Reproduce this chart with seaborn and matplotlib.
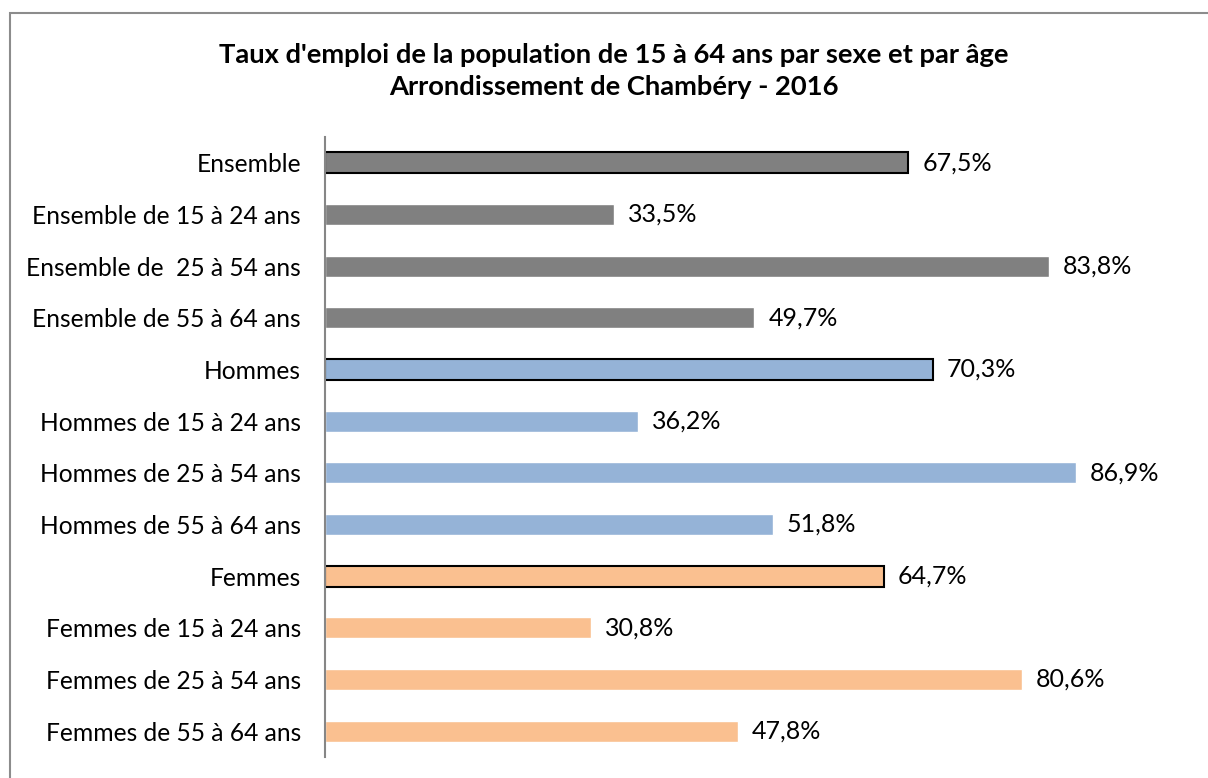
import matplotlib
matplotlib.use("Agg")
import matplotlib.pyplot as plt
import seaborn as sns
import pandas as pd
from matplotlib.patches import Rectangle

categories = [
    "Ensemble", "Ensemble de 15 à 24 ans", "Ensemble de  25 à 54 ans", "Ensemble de 55 à 64 ans",
    "Hommes", "Hommes de 15 à 24 ans", "Hommes de 25 à 54 ans", "Hommes de 55 à 64 ans",
    "Femmes", "Femmes de 15 à 24 ans", "Femmes de 25 à 54 ans", "Femmes de 55 à 64 ans",
]
values = [67.5, 33.5, 83.8, 49.7, 70.3, 36.2, 86.9, 51.8, 64.7, 30.8, 80.6, 47.8]
groups = ["Ensemble"] * 4 + ["Hommes"] * 4 + ["Femmes"] * 4
outlined = ["Ensemble", "Hommes", "Femmes"]
palette = {"Ensemble": "#808080", "Hommes": "#95B3D7", "Femmes": "#FAC090"}
title = "Taux d'emploi de la population de 15 à 64 ans par sexe et par âge\nArrondissement de Chambéry - 2016"

df = pd.DataFrame({"cat": categories, "val": values, "grp": groups})

sns.set_theme(style="white")
plt.rcParams["font.family"] = ["Lato", "DejaVu Sans"]

W, H = 1208, 778
fig = plt.figure(figsize=(W / 100, H / 100), dpi=100)
ax = fig.add_axes([324.5 / W, 1 - 757 / H, (1189.5 - 324.5) / W, (757 - 137) / H])

sns.barplot(data=df, y="cat", x="val", hue="grp", palette=palette, dodge=False,
            orient="h", width=0.41, legend=False, ax=ax, order=categories,
            saturation=1)

# outline the summary rows
for patch in ax.patches:
    y = patch.get_y() + patch.get_height() / 2
    idx = int(round(y))
    if 0 <= idx < len(categories) and categories[idx] in outlined and patch.get_width() > 0:
        patch.set_edgecolor("black")
        patch.set_linewidth(1.5)

ax.set_xlim(0, 100)
ax.set_ylim(len(categories) - 0.5, -0.5)
ax.set_xlabel("")
ax.set_ylabel("")
ax.set_xticks([])
for s in ["top", "right", "bottom"]:
    ax.spines[s].set_visible(False)
ax.spines["left"].set_color("#868686")
ax.spines["left"].set_linewidth(1.5)
ax.tick_params(axis="y", length=0, pad=17, labelsize=17.7, labelcolor="black")

for i, v in enumerate(values):
    ax.text(v + 1.6, i, f"{v:.1f}%".replace(".", ","), va="center", ha="left",
            fontsize=18, color="black")

fig.text(614 / W, 1 - 71 / H, title, ha="center", va="center", fontsize=19.7,
         fontweight="bold", linespacing=1.42, color="black")

fig.patches.append(Rectangle((9.5 / W, -0.1), 1.2, 1 - 13.5 / H + 0.1,
                             transform=fig.transFigure, fill=False,
                             edgecolor="#8C8C8C", linewidth=1.5))

fig.savefig("out.png", dpi=100)
